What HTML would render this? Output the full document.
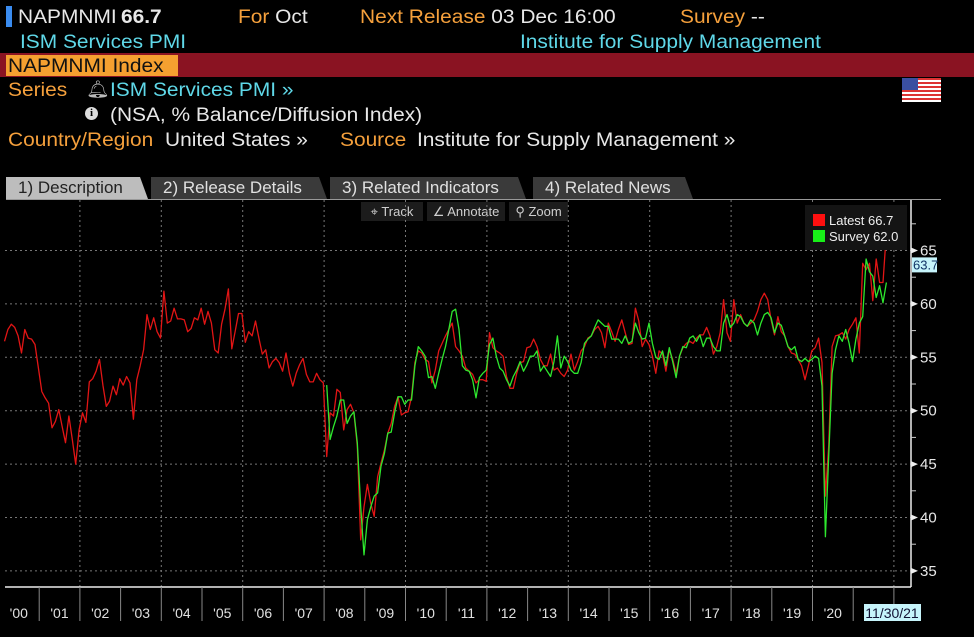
<!DOCTYPE html>
<html><head><meta charset="utf-8">
<style>
html,body{margin:0;padding:0;background:#000;width:974px;height:637px;overflow:hidden;font-family:"Liberation Sans Narrow","Liberation Sans",sans-serif;}
.t{position:absolute;white-space:nowrap;line-height:1;transform:scaleX(1.1);transform-origin:0 0;}
.or{color:#f5a03c}.cy{color:#5fd8e8}.wh{color:#e8e8e8}
.tab{position:absolute;top:177px;height:22px;background:#3a3a3a;color:#e0e0e0;font-size:17px;line-height:22px;padding-left:12px;box-sizing:border-box;clip-path:polygon(0 0,calc(100% - 8px) 0,100% 100%,0 100%);}
.tb{position:absolute;top:202px;height:19px;background:#1c1c1c;color:#cfcfcf;font-size:13px;line-height:19px;text-align:center;}
</style></head><body>
<div>
<div style="position:absolute;left:6px;top:6px;width:6px;height:21px;background:#3a8cf0"></div>
<div class="t wh" style="left:18px;top:8px;font-size:19px">NAPMNMI</div>
<div class="t wh" style="left:121px;top:8px;font-size:19px;font-weight:bold">66.7</div>
<div class="t or" style="left:238px;top:8px;font-size:19px">For <span class="wh">Oct</span></div>
<div class="t or" style="left:360px;top:8px;font-size:19px">Next Release <span class="wh">03 Dec 16:00</span></div>
<div class="t or" style="left:680px;top:8px;font-size:19px">Survey <span class="wh">--</span></div>
<div class="t cy" style="left:20px;top:33px;font-size:19px">ISM Services PMI</div>
<div class="t cy" style="left:520px;top:33px;font-size:19px">Institute for Supply Management</div>
<div style="position:absolute;left:0;top:53px;width:974px;height:24px;background:#8a1322"></div>
<div style="position:absolute;left:6px;top:55px;width:172px;height:21px;background:#f5a030"></div>
<div class="t" style="left:8px;top:57px;color:#111;font-size:19px">NAPMNMI Index</div>
<div class="t or" style="left:8px;top:81px;font-size:19px">Series</div>
<div class="t" style="left:86px;top:81px;font-size:17px;color:#bbb">&#x1F514;&#xFE0E;</div>
<div class="t cy" style="left:110px;top:81px;font-size:19px">ISM Services PMI »</div>
<div style="position:absolute;left:902px;top:78px;width:39px;height:24px;background:repeating-linear-gradient(#d33 0 2px,#fff 2px 4px)"><div style="width:16px;height:12px;background:#3a4fa0"></div></div>
<div style="position:absolute;left:85px;top:107px;width:13px;height:13px;border-radius:50%;background:#ddd;color:#000;font:bold 11px 'Liberation Serif',serif;text-align:center;line-height:13px">i</div>
<div class="t wh" style="left:110px;top:106px;font-size:19px">(NSA, % Balance/Diffusion Index)</div>
<div class="t or" style="left:8px;top:131px;font-size:19px">Country/Region</div>
<div class="t wh" style="left:165px;top:131px;font-size:19px">United States »</div>
<div class="t or" style="left:340px;top:131px;font-size:19px">Source</div>
<div class="t wh" style="left:417px;top:131px;font-size:19px">Institute for Supply Management »</div>
</div>
<div class="tab" style="left:6px;width:142px;background:#bdbdbd;color:#222">1) Description</div>
<div class="tab" style="left:151px;width:176px">2) Release Details</div>
<div class="tab" style="left:330px;width:196px">3) Related Indicators</div>
<div class="tab" style="left:533px;width:160px">4) Related News</div>
<div style="position:absolute;left:6px;top:199px;width:935px;height:1px;background:#999"></div>
<div class="tb" style="left:361px;width:62px">⌖ Track</div>
<div class="tb" style="left:427px;width:78px">∠ Annotate</div>
<div class="tb" style="left:509px;width:59px">⚲ Zoom</div>

<svg id="chart" width="974" height="637" style="position:absolute;left:0;top:0" xmlns="http://www.w3.org/2000/svg"></svg>

<script>
const yTicks=[35,40,45,50,55,60,65];
const yearLabels=["'00","'01","'02","'03","'04","'05","'06","'07","'08","'09","'10","'11","'12","'13","'14","'15","'16","'17","'18","'19","'20"];
const latestStartMonth=1;
const latestValues=[56.5,57.6,58.1,57.8,57.0,55.4,57.6,56.8,56.7,56.2,54.0,51.8,51.2,50.7,48.4,49.0,50.1,48.5,47.0,49.5,47.3,45.0,48.2,49.8,48.9,52.7,53.0,53.7,54.8,52.4,50.4,50.9,52.3,51.5,53.0,52.4,53.2,52.6,49.2,52.9,54.2,55.7,59.0,57.6,58.7,57.4,56.8,61.2,
58.2,58.4,59.6,58.6,58.6,58.5,57.4,57.7,58.7,58.5,59.6,58.1,59.3,58.2,55.7,55.4,58.1,59.5,61.4,55.8,57.4,59.1,59.1,56.4,57.4,57.0,58.4,56.8,55.3,55.7,54.0,54.6,54.9,54.5,53.7,55.4,53.5,52.3,53.5,54.3,54.9,53.4,52.7,52.7,53.5,52.9,52.6,
45.7,49.8,49.5,52.0,51.7,48.2,50.1,50.6,49.8,46.7,37.9,41.0,43.1,41.3,40.1,43.8,45.1,46.3,47.9,48.8,50.4,51.3,49.6,49.8,49.9,51.3,54.5,55.6,55.4,54.8,54.6,52.6,53.8,55.6,56.3,57.0,57.6,58.2,56.0,55.6,55.1,54.0,53.7,53.4,52.6,52.9,52.9,52.75,
57.3,55.9,55.6,55.4,55.1,53.2,52.1,52.1,53.5,54.5,54.6,55.9,56.0,56.7,56.0,54.8,54.2,54.2,55.3,53.8,54.0,53.5,53.2,53.8,55.3,53.8,54.6,55.6,56.0,56.8,57.0,57.6,57.9,57.3,55.9,58.2,57.4,56.5,57.6,58.5,57.3,56.2,56.3,59.6,58.4,56.0,56.7,56.2,55.1,53.5,
55.6,55.3,53.7,55.7,54.8,53.5,55.1,55.9,56.3,56.5,56.3,56.8,57.1,57.1,57.8,57.0,55.3,56.0,57.3,60.4,57.3,56.5,60.4,58.2,59.0,58.2,57.9,58.2,58.5,59.3,60.4,61.0,60.4,58.5,57.1,58.8,57.4,57.0,56.0,55.4,55.3,54.8,54.2,52.9,
54.2,55.6,55.9,56.8,54.5,42.0,46.7,56.0,57.0,57.1,57.3,56.7,57.6,58.1,58.7,55.4,63.8,63.2,63.8,60.3,64.2,62.0,62.0,66.7];
const surveyStartMonth=96;
const surveyValues=[52.4,47.3,48.5,49.5,51.0,51.0,48.8,49.5,49.9,47.0,41.0,36.5,39.8,41.0,42.0,42.3,44.8,46.0,47.9,48.0,49.8,51.3,51.3,50.6,51.0,51.0,54.2,56.0,55.6,55.1,53.1,53.2,52.1,53.5,54.8,56.0,57.6,59.3,59.5,57.6,54.2,53.8,53.7,52.9,51.2,53.1,53.5,53.8,
56.2,56.8,55.1,54.0,53.7,52.9,52.3,53.2,53.8,54.6,53.7,54.3,55.1,55.1,55.6,53.7,54.2,53.7,53.2,54.6,57.0,54.0,55.1,54.6,53.8,53.5,53.5,54.5,56.3,56.7,57.0,57.8,58.5,58.2,57.9,57.9,56.7,56.7,56.7,56.3,57.0,56.3,56.5,58.2,57.3,56.7,56.8,58.2,56.3,55.0,
54.8,55.6,54.2,55.9,54.6,53.1,55.1,56.0,55.9,56.8,57.0,56.5,57.1,56.0,56.8,56.8,56.0,55.6,55.6,58.2,59.0,57.8,58.2,59.0,58.8,58.2,57.9,58.5,58.2,57.1,58.2,59.0,59.2,58.7,57.3,58.2,58.0,57.0,56.0,55.7,56.0,54.8,54.6,54.9,
54.6,54.8,55.1,54.9,52.3,38.2,45.7,53.5,55.7,57.0,56.5,57.6,56.3,54.6,56.7,58.2,58.8,64.2,63.0,62.6,60.6,61.7,60.1,62.0];
const latestLabel="Latest  66.7", surveyLabel="Survey  62.0", markerValue=63.7, dateLabel="11/30/21";

const NS="http://www.w3.org/2000/svg";
const svg=document.getElementById('chart');
const L=5,R=911,T=200,B=587;
function yScale(v){return 250.5+(65-v)*10.68;}
function xMonth(m){return 1.1+3.392*m;}
function xYear(i){return -1.5+40.7*i;}
function mk(tag,attrs,parent){const e=document.createElementNS(NS,tag);for(const k in attrs)e.setAttribute(k,attrs[k]);(parent||svg).appendChild(e);return e;}

yTicks.forEach(v=>{
  const g=mk('line',{x1:L,x2:R,y1:yScale(v),y2:yScale(v),stroke:'#777','stroke-width':1,'stroke-dasharray':'2,3'});
  
  
});
for(let i=2;i<=22;i+=2){
  const g=mk('line',{x1:xYear(i),x2:xYear(i),y1:T,y2:B,stroke:'#777','stroke-width':1,'stroke-dasharray':'2,3'});
  
  
}
const xa=mk('line',{x1:L,x2:R,y1:B,y2:B,stroke:'#eee','stroke-width':1.5});


const ya=mk('line',{x1:R,x2:R,y1:T,y2:B,stroke:'#eee','stroke-width':1.5});


for(let v=35;v<=67.5;v+=2.5){
  const y=yScale(v);
  if(v%5===0){
    const tri=mk('polygon',{points:`${R},${y-3} ${R+7},${y} ${R},${y+3}`,fill:'#eee'});
    
    
  }else{
    const tk=mk('line',{x1:R,x2:R+5,y1:y,y2:y,stroke:'#ccc'});
    
    
  }
}
yTicks.forEach(v=>{
  const t=mk('text',{x:920,y:yScale(v)+5,fill:'#e8e8e8','font-size':15,'font-family':'Liberation Sans Narrow, Liberation Sans, sans-serif'});
  t.textContent=v;
  
  
});
for(let i=0;i<=22;i++){
  const tk=mk('line',{x1:xYear(i),x2:xYear(i),y1:B,y2:621,stroke:'#888'});
  
  
}
yearLabels.forEach((s,i)=>{
  const t=mk('text',{x:xYear(i)+20.3,y:618,fill:'#e0e0e0','font-size':14,'text-anchor':'middle','font-family':'Liberation Sans Narrow, Liberation Sans, sans-serif'});
  t.textContent=s;
  
  
});
const db=mk('rect',{x:864,y:604,width:57,height:17,fill:'#c6f4fb'});


const dt=mk('text',{x:892,y:618,fill:'#113','font-size':14,'text-anchor':'middle','font-family':'Liberation Sans Narrow, Liberation Sans, sans-serif'});
dt.textContent=dateLabel;



function path(vals,start,color,name){
  const d=vals.map((v,i)=>(i?'L':'M')+xMonth(start+i).toFixed(1)+','+yScale(v).toFixed(1)).join('');
  const p=mk('path',{d:d,fill:'none',stroke:color,'stroke-width':1.3,'stroke-linejoin':'round'});
  
  
}
path(latestValues,latestStartMonth,'#e21515','latest-series-line');
path(surveyValues,surveyStartMonth,'#2ee82e','survey-series-line');

const mb=mk('rect',{x:912,y:yScale(markerValue)-7,width:25,height:15,fill:'#c6f4fb'});


const mt=mk('text',{x:913,y:yScale(markerValue)+5,fill:'#136','font-size':13,'font-family':'Liberation Sans Narrow, Liberation Sans, sans-serif'});
mt.textContent=markerValue.toFixed(1);



const lg=mk('g',{});


mk('rect',{x:805,y:205,width:102,height:45,fill:'#141414'},lg);
[[latestLabel,'#ff1010',214],[surveyLabel,'#18f018',230]].forEach(([s,c,y])=>{
  const sw=mk('rect',{x:813,y:y,width:12,height:12,fill:c},lg);
  
  
  const t=mk('text',{x:829,y:y+11,fill:'#eee','font-size':13,'xml:space':'preserve','font-family':'Liberation Sans Narrow, Liberation Sans, sans-serif'},lg);
  t.textContent=s;
  
  
});
</script>
</body></html>
